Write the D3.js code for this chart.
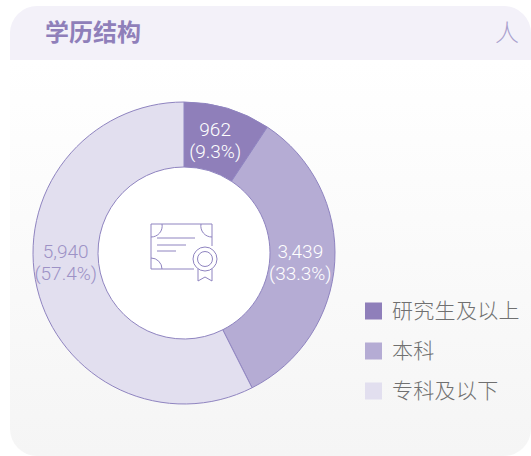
<!DOCTYPE html>
<html>
<head>
<meta charset="utf-8">
<script src="https://cdn.jsdelivr.net/npm/d3@7"></script>
<style>
  html, body { margin: 0; padding: 0; background: #fff; }
  svg { display: block; }
</style>
</head>
<body>
<div id="chart"></div>
<script>
const title = '学历结构';
const unit = '人';
const categories = ['研究生及以上', '本科', '专科及以下'];
const values = [962, 3439, 5940];
const percents = ['9.3%', '33.3%', '57.4%'];
const colors = ['#8f7fba', '#b5acd4', '#e2dfef'];
const labelColors = ['#ffffff', '#ffffff', '#9d92c6'];
// nudges from the arc centroid
const labelNudge = [[-3, 0], [-2, 2], [-3, -18]];

const width = 531, height = 456;
const cjk = '"Noto Sans CJK SC", "Noto Sans", sans-serif';
const lineColor = '#8f84c0';

const svg = d3.select('#chart').append('svg')
  .attr('width', width)
  .attr('height', height);

const defs = svg.append('defs');
const bg = defs.append('linearGradient')
  .attr('id', 'cardBg')
  .attr('x1', 0).attr('y1', 0).attr('x2', 0).attr('y2', 1);
bg.append('stop').attr('offset', '0%').attr('stop-color', '#ffffff');
bg.append('stop').attr('offset', '100%').attr('stop-color', '#f5f5f5');

// card, the right side runs up to the window edge
const card = { x: 10, y: 6, w: 521, h: 450, r: 27, head: 54 };
const cardPath = d3.path();
cardPath.moveTo(card.x + card.r, card.y);
cardPath.lineTo(card.x + card.w - card.r, card.y);
cardPath.arcTo(card.x + card.w, card.y, card.x + card.w, card.y + card.r, card.r);
cardPath.lineTo(card.x + card.w, card.y + card.h - card.r);
cardPath.arcTo(card.x + card.w, card.y + card.h, card.x + card.w - card.r, card.y + card.h, card.r);
cardPath.lineTo(card.x + card.r, card.y + card.h);
cardPath.arcTo(card.x, card.y + card.h, card.x, card.y + card.h - card.r, card.r);
cardPath.lineTo(card.x, card.y + card.r);
cardPath.arcTo(card.x, card.y, card.x + card.r, card.y, card.r);
cardPath.closePath();

defs.append('clipPath').attr('id', 'cardClip').append('path').attr('d', cardPath.toString());

const cardG = svg.append('g').attr('clip-path', 'url(#cardClip)');
cardG.append('rect')
  .attr('x', card.x).attr('y', card.y + card.head)
  .attr('width', card.w).attr('height', card.h - card.head)
  .attr('fill', 'url(#cardBg)');
cardG.append('rect')
  .attr('x', card.x).attr('y', card.y)
  .attr('width', card.w).attr('height', card.head)
  .attr('fill', '#f3f1f9');

svg.append('text')
  .attr('x', 45).attr('y', 41)
  .attr('font-family', cjk).attr('font-size', 24).attr('font-weight', 700)
  .attr('fill', '#8f7fba')
  .text(title);

svg.append('text')
  .attr('x', 507).attr('y', 41)
  .attr('text-anchor', 'middle')
  .attr('font-family', cjk).attr('font-size', 24).attr('font-weight', 300)
  .attr('fill', '#a9a0cd')
  .text(unit);

// donut
const cx = 184, cy = 253, outer = 151, inner = 86;
const pie = d3.pie().sort(null).value(d => d);
const arc = d3.arc().innerRadius(inner).outerRadius(outer);
const arcs = pie(values);

const donut = svg.append('g').attr('transform', `translate(${cx},${cy})`);
donut.append('circle').attr('r', inner).attr('fill', '#fff');
donut.selectAll('path.slice')
  .data(arcs)
  .enter()
  .append('path')
  .attr('class', 'slice')
  .attr('d', arc)
  .attr('fill', (d, i) => colors[i])
  .attr('stroke', lineColor)
  .attr('stroke-width', 1);

const labels = donut.selectAll('g.label')
  .data(arcs)
  .enter()
  .append('g')
  .attr('class', 'label')
  .attr('transform', (d, i) => {
    const c = arc.centroid(d);
    return `translate(${c[0] + labelNudge[i][0]},${c[1] + labelNudge[i][1]})`;
  })
  .attr('text-anchor', 'middle')
  .attr('font-family', 'Roboto, sans-serif')
  .attr('font-weight', 300)
  .attr('font-size', 19)
  .attr('fill', (d, i) => labelColors[i]);
labels.append('text').attr('y', -4).text(d => d3.format(',')(d.value));
labels.append('text').attr('y', 18).text((d, i) => `(${percents[i]})`);

// certificate icon in the hole
const icon = svg.append('g')
  .attr('transform', `translate(${cx},${cy})`)
  .attr('fill', 'none')
  .attr('stroke', lineColor)
  .attr('stroke-width', 1);
icon.append('path').attr('d', 'M10,16H-33V-29H28V-7');
icon.append('path').attr('d', 'M-33,-16A11,11 0 0 0 -22,-29M17,-29A11,11 0 0 0 28,-16M-33,5A11,11 0 0 1 -22,16');
icon.append('path').attr('d', 'M-27,-15H11M-27,-8H2M-27,-2H-8');
icon.append('circle').attr('cx', 21).attr('cy', 6).attr('r', 12);
icon.append('circle').attr('cx', 21).attr('cy', 6).attr('r', 7.5);
icon.append('path').attr('d', 'M14,16V28L21,24L28,28V16');

// legend
const legendY = d3.scalePoint().domain(categories).range([311, 391]);
const legend = svg.selectAll('g.legend')
  .data(categories)
  .enter()
  .append('g')
  .attr('class', 'legend')
  .attr('transform', d => `translate(365,${legendY(d)})`);
legend.append('rect')
  .attr('x', 0).attr('y', -8.5)
  .attr('width', 17).attr('height', 17)
  .attr('fill', (d, i) => colors[i]);
legend.append('text')
  .attr('x', 27).attr('y', 7)
  .attr('font-family', cjk).attr('font-size', 21).attr('font-weight', 300)
  .attr('letter-spacing', 0.3)
  .attr('fill', '#707070')
  .text(d => d);
</script>
</body>
</html>
